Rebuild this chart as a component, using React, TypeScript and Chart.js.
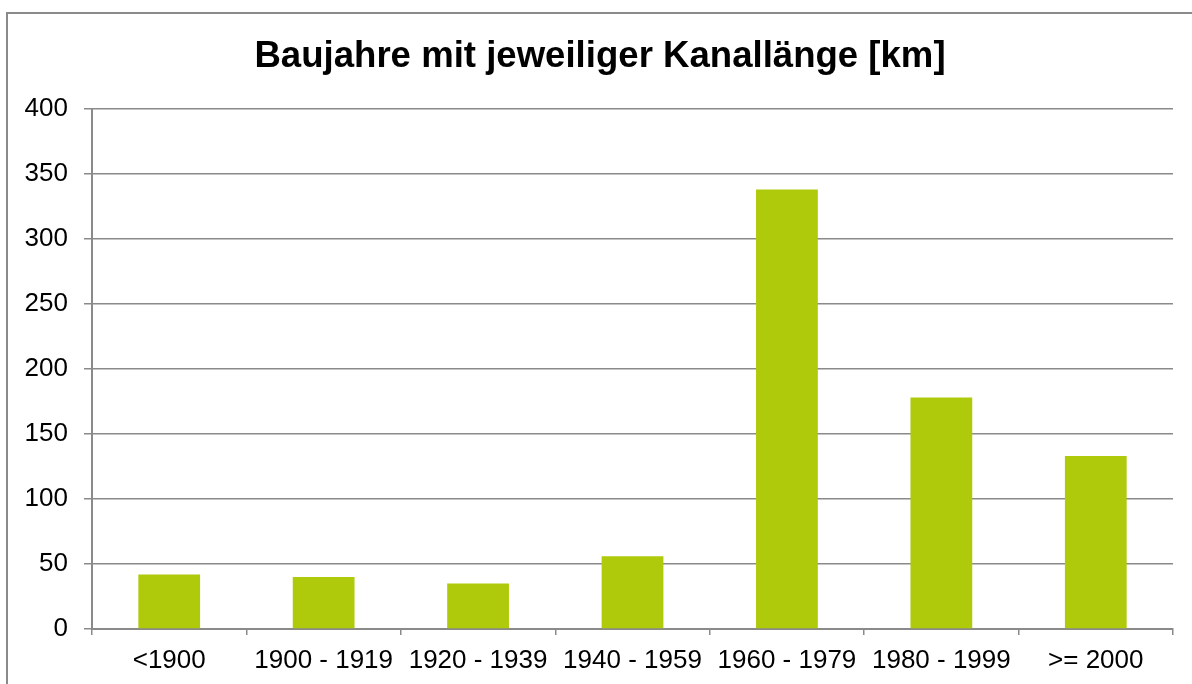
import React, { useEffect, useRef } from "react";
import { Chart, registerables } from "chart.js";

Chart.register(...registerables);

const titleText = "Baujahre mit jeweiliger Kanallänge [km]";
const categories = ["<1900", "1900 - 1919", "1920 - 1939", "1940 - 1959", "1960 - 1979", "1980 - 1999", ">= 2000"];
const lengthsKm = [42, 40, 35, 56, 338, 178, 133];
const yMin = 0;
const yMax = 400;
const yStep = 50;

const GRAY = "#8a8a8a";
const BAR = "#afca0b";
const FONT = "'Liberation Sans', Arial, sans-serif";

const framePlugin = {
  id: "frameAndTitle",
  beforeDraw(chart: any) {
    const ctx = chart.ctx;
    ctx.save();
    ctx.fillStyle = "#ffffff";
    ctx.fillRect(0, 0, chart.width, chart.height);
    ctx.strokeStyle = GRAY;
    ctx.lineWidth = 2;
    ctx.beginPath();
    ctx.moveTo(7, chart.height);
    ctx.lineTo(7, 13);
    ctx.lineTo(chart.width, 13);
    ctx.stroke();
    ctx.fillStyle = "#000000";
    ctx.font = `bold 36.6px ${FONT}`;
    ctx.textAlign = "center";
    ctx.textBaseline = "alphabetic";
    ctx.fillText(titleText, 600, 67);
    ctx.restore();
  },
};

export default function App() {
  const ref = useRef<HTMLCanvasElement | null>(null);
  useEffect(() => {
    if (!ref.current) return;
    const chart = new Chart(ref.current, {
      type: "bar",
      data: {
        labels: categories,
        datasets: [
          {
            data: lengthsKm,
            backgroundColor: BAR,
            borderWidth: 0,
            categoryPercentage: 1,
            barPercentage: 0.4,
          },
        ],
      },
      options: {
        animation: false,
        responsive: false,
        maintainAspectRatio: false,
        layout: { padding: { top: 109, right: 19, left: 0, bottom: 0 } },
        plugins: {
          legend: { display: false },
          title: { display: false },
          tooltip: { enabled: false },
        },
        scales: {
          x: {
            afterFit: (s: any) => {
              s.height = 55;
            },
            grid: {
              offset: true,
              drawOnChartArea: false,
              drawTicks: true,
              tickLength: 6,
              color: GRAY,
              lineWidth: 1.5,
            },
            border: { display: true, color: GRAY, width: 2 },
            ticks: {
              color: "#000",
              font: { family: FONT, size: 26 },
              padding: 10,
              maxRotation: 0,
              autoSkip: false,
            },
          },
          y: {
            min: yMin,
            max: yMax,
            afterFit: (s: any) => {
              s.width = 92;
            },
            grid: {
              drawOnChartArea: true,
              drawTicks: true,
              tickLength: 8,
              color: GRAY,
              lineWidth: 1.5,
            },
            border: { display: true, color: GRAY, width: 2 },
            ticks: {
              stepSize: yStep,
              color: "#000",
              font: { family: FONT, size: 26 },
              padding: 16,
            },
          },
        },
      },
      plugins: [framePlugin],
    });
    return () => chart.destroy();
  }, []);
  return (
    <div style={{ position: "absolute", left: 0, top: 0, width: 1192, height: 684, background: "#fff" }}>
      <canvas ref={ref} width={1192} height={684} style={{ display: "block", width: 1192, height: 684 }} />
    </div>
  );
}
